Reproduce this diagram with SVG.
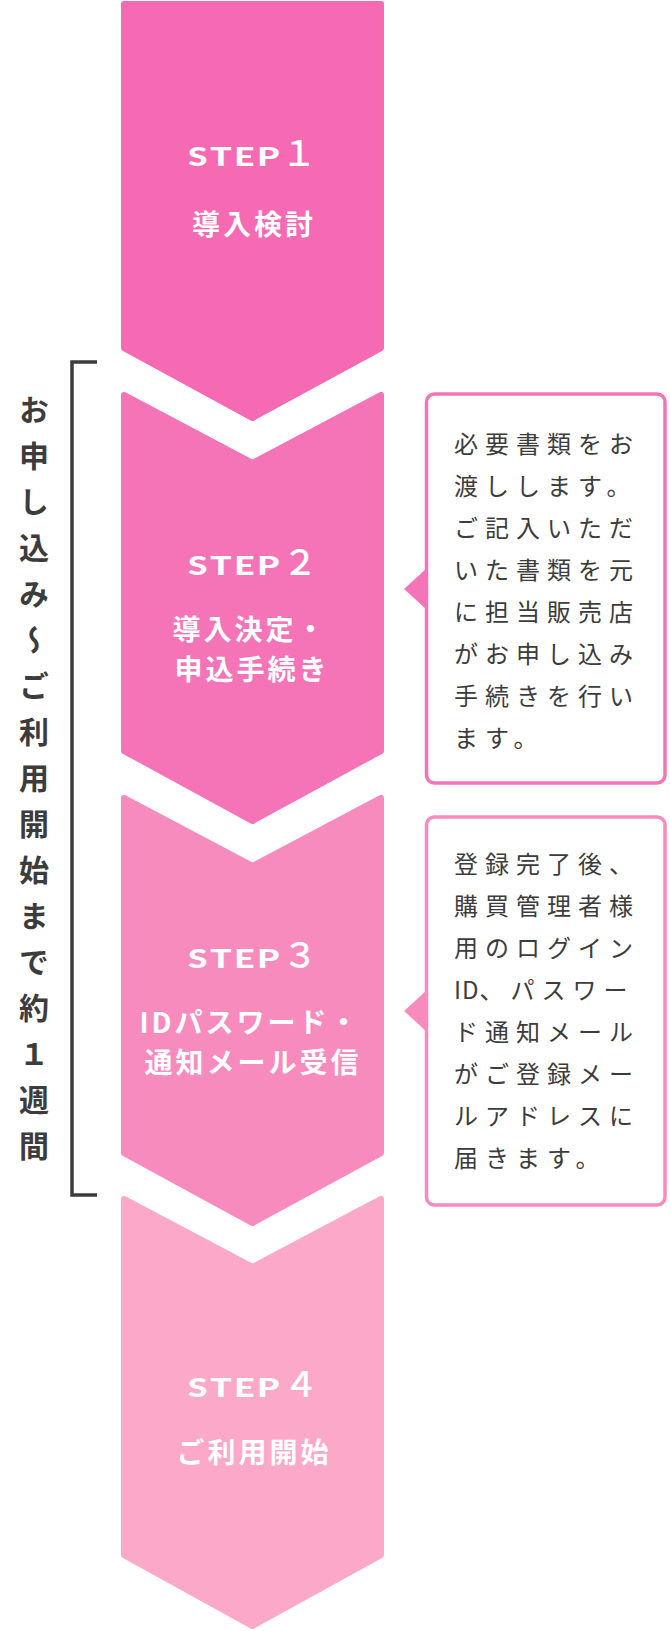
<svg xmlns="http://www.w3.org/2000/svg" width="670" height="1631" viewBox="0 0 670 1631">
<style>
.chev{stroke-width:6;stroke-linejoin:round}
.c1{fill:#F56AB3;stroke:#F56AB3}
.c2{fill:#F574B8;stroke:#F574B8}
.c3{fill:#F88BBE;stroke:#F88BBE}
.c4{fill:#FCA8C8;stroke:#FCA8C8}
.step{font-family:Lato,"Liberation Sans",sans-serif;font-weight:900;font-size:26px;fill:#fff;letter-spacing:2px}
.num{font-family:"Noto Sans CJK JP",sans-serif;font-weight:500;font-size:35px;fill:#fff}
.title{font-family:"Noto Sans CJK JP",sans-serif;font-weight:700;font-size:28px;fill:#fff;letter-spacing:3px}
.box{fill:#fff;stroke-width:3.5}
.note{font-family:"Noto Sans CJK JP",sans-serif;font-weight:400;font-size:24px;fill:#3c3c3c;letter-spacing:7px}
.tight{letter-spacing:1px}
.vlabel{font-family:"Noto Sans CJK JP",sans-serif;font-weight:700;font-size:30px;fill:#3c3c3c;letter-spacing:16px;writing-mode:vertical-rl}
</style>
<g id="step1">
<polygon class="chev c1" points="124,4 381,4 381,348 252.5,418 124,348"/>
<text class="step" x="188" y="166" textLength="94" lengthAdjust="spacingAndGlyphs">STEP</text>
<text class="num" x="299" y="166" text-anchor="middle">１</text>
<text class="title" x="254" y="235" text-anchor="middle">導入検討</text>
</g>
<g id="step2">
<polygon class="chev c2" points="124,395 252.5,463 381,395 381,751 252.5,821 124,751"/>
<text class="step" x="188" y="575" textLength="94" lengthAdjust="spacingAndGlyphs">STEP</text>
<text class="num" x="300" y="575" text-anchor="middle">２</text>
<text class="title" text-anchor="middle"><tspan x="250" y="640">導入決定・</tspan><tspan x="252" y="680">申込手続き</tspan></text>
</g>
<g id="step3">
<polygon class="chev c3" points="124,798 252.5,866 381,798 381,1153 252.5,1223 124,1153"/>
<text class="step" x="188" y="968" textLength="94" lengthAdjust="spacingAndGlyphs">STEP</text>
<text class="num" x="300" y="968" text-anchor="middle">３</text>
<text class="title" text-anchor="middle"><tspan x="250" y="1033">IDパスワード・</tspan><tspan x="253" y="1073">通知メール受信</tspan></text>
</g>
<g id="step4">
<polygon class="chev c4" points="124,1199 252.5,1267 381,1199 381,1555 252.5,1626 124,1555"/>
<text class="step" x="188" y="1397" textLength="94" lengthAdjust="spacingAndGlyphs">STEP</text>
<text class="num" x="301" y="1397" text-anchor="middle">４</text>
<text class="title" x="254" y="1463" text-anchor="middle">ご利用開始</text>
</g>
<g id="note2">
<rect class="box" x="426.5" y="394" width="238.5" height="389" rx="8" stroke="#F574B8"/>
<text class="note"><tspan x="454" y="453">必要書類をお</tspan><tspan x="454" dy="42">渡しします。</tspan><tspan x="454" dy="42">ご記入いただ</tspan><tspan x="454" dy="42">いた書類を元</tspan><tspan x="454" dy="42">に担当販売店</tspan><tspan x="454" dy="42">がお申し込み</tspan><tspan x="454" dy="42">手続きを行い</tspan><tspan x="454" dy="42">ます。</tspan></text>
</g>
<g id="note3">
<rect class="box" x="426.5" y="817" width="238.5" height="388" rx="8" stroke="#F88BBE"/>
<text class="note"><tspan x="454" y="873">登録完了後、</tspan><tspan x="454" dy="42">購買管理者様</tspan><tspan x="454" dy="42">用のログイン</tspan><tspan x="454" dy="42" class="tight">ID</tspan><tspan>、パスワー</tspan><tspan x="454" dy="42">ド通知メール</tspan><tspan x="454" dy="42">がご登録メー</tspan><tspan x="454" dy="42">ルアドレスに</tspan><tspan x="454" dy="42">届きます。</tspan></text>
</g>
<g id="connectors">
<polygon points="427,568 404,589 427,610" fill="#F574B8"/>
<polygon points="427,990 404,1011 427,1032" fill="#F88BBE"/>
</g>
<g id="period">
<path d="M97,362 H72 V1195 H97" fill="none" stroke="#3c3c3c" stroke-width="3.5"/>
<text class="vlabel" x="34" y="395">お申し込み〜ご利用開始まで約１週間</text>
</g>
</svg>
